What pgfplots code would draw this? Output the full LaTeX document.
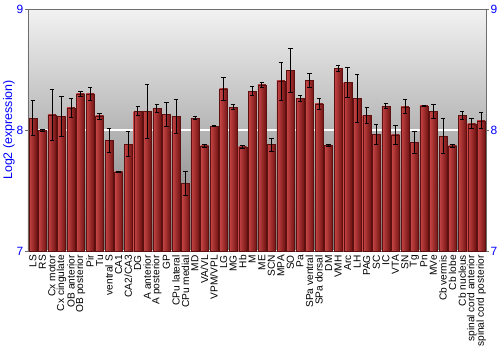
\documentclass[border=0pt]{standalone}
\usepackage{fontspec}
\setmainfont{Liberation Sans}
\usepackage{pgfplots}
\pgfplotsset{compat=1.18}
\usepackage{pgfplotstable}
\definecolor{tickblue}{RGB}{0,0,255}
\definecolor{barL}{RGB}{200,70,70}
\definecolor{barM}{RGB}{175,45,45}
\definecolor{barR}{RGB}{115,20,20}
\definecolor{framec}{RGB}{110,110,110}
\definecolor{bgtop}{RGB}{242,242,242}
\definecolor{bgbot}{RGB}{120,120,120}
\pgfplotstableread{
x y e
0 8.099 0.145
1 7.997 0.012
2 8.124 0.21
3 8.113 0.168
4 8.184 0.081
5 8.298 0.02
6 8.298 0.052
7 8.116 0.025
8 7.917 0.099
9 7.653 0.005
10 7.884 0.102
11 8.157 0.036
12 8.157 0.223
13 8.179 0.03
14 8.132 0.1
15 8.113 0.14
16 7.562 0.098
17 8.099 0.01
18 7.868 0.01
19 8.033 0.004
20 8.339 0.098
21 8.19 0.022
22 7.86 0.01
23 8.322 0.036
24 8.372 0.022
25 7.879 0.056
26 8.405 0.157
27 8.493 0.18
28 8.262 0.024
29 8.413 0.058
30 8.215 0.048
31 7.873 0.012
32 8.512 0.025
33 8.394 0.125
34 8.262 0.2
35 8.121 0.066
36 7.964 0.083
37 8.198 0.02
38 7.961 0.078
39 8.193 0.058
40 7.898 0.09
41 8.201 0.004
42 8.154 0.054
43 7.95 0.143
44 7.868 0.015
45 8.121 0.032
46 8.052 0.041
47 8.077 0.065
}\data
\begin{document}
\begin{tikzpicture}
\begin{axis}[
  scale only axis, width=458bp, height=242bp,
  xmin=-0.5, xmax=47.5, ymin=7, ymax=9,
  ytick={7,8,9}, ytick pos=left, tick align=outside,
  major tick length=3bp,
  xtick={0,...,47},
  xticklabels={LS,RS,Cx motor,Cx cingulate,OB anterior,OB posterior,Pir,Tu,ventral S,CA1,CA2/CA3,DG,A anterior,A posterior,GP,CPu lateral,CPu medial,MD,VA/VL,VPM/VPL,LG,MG,Hb,M,ME,SCN,MPA,SO,Pa,SPa ventral,SPa dorsal,DM,VMH,Arc,LH,PAG,SC,IC,VTA,SN,Tg,Pn,MVe,Cb vermis,Cb lobe,Cb nucleus,spinal cord anterior,spinal cord posterior},
  x tick label style={rotate=90, anchor=east, font=\fontsize{10.2}{10.2}\selectfont, inner sep=1pt},
  xtick style={draw=none},
  ytick style={framec, line width=0.8pt},
  y tick label style={font=\fontsize{12}{12}\selectfont, text=tickblue, inner sep=1.5pt},
  ylabel={Log2 (expression)},
  ylabel style={font=\fontsize{12.5}{12.5}\selectfont, text=tickblue, yshift=-3bp},
  ymajorgrids, grid style={white, line width=1.2pt},
  axis line style={framec, line width=0.8pt},
  axis background/.style={top color=bgtop, bottom color=bgbot},
  /pgf/number format/assume math mode=true,
  ybar, bar width=8bp,
]
\pgfplotsinvokeforeach{0,...,47}{
\addplot[draw=barR!80!black, line width=0.3pt, left color=barL, middle color=barM, right color=barR, bar shift=0pt,
  restrict x to domain=#1:#1,
  error bars/.cd, y dir=both, y explicit,
  error bar style={black, line width=0.7pt},
  error mark options={black, rotate=90, mark size=2.2bp, line width=0.7pt}]
  table[x=x, y=y, y error=e] {\data};
}
\end{axis}
\begin{axis}[
  scale only axis, width=458bp, height=242bp,
  xmin=-0.5, xmax=47.5, ymin=7, ymax=9,
  axis x line=none, axis y line*=right,
  ytick={7,8,9}, tick align=outside, major tick length=3bp,
  ytick style={framec, line width=0.8pt},
  y tick label style={font=\fontsize{12}{12}\selectfont, text=tickblue, inner sep=1.5pt},
  axis line style={framec, line width=0.8pt},
  /pgf/number format/assume math mode=true,
]
\end{axis}
\pgfresetboundingbox
\path (current axis.south west) +(-28bp,-99bp) (current axis.north east) +(14bp,9bp);
\end{tikzpicture}
\end{document}
